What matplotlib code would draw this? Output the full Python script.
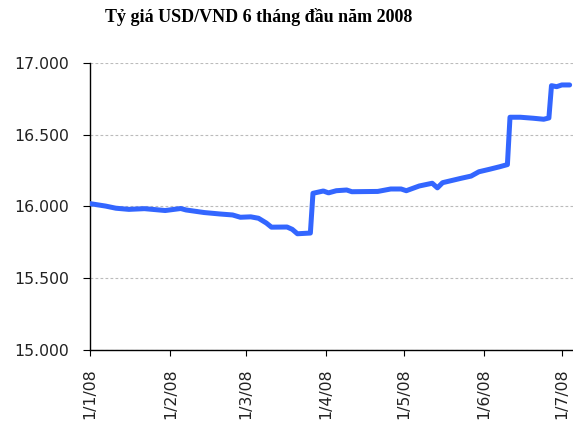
import numpy as np
import pandas as pd
import matplotlib.pyplot as plt
import matplotlib.dates as mdates

# USD/VND rate, first half of 2008
dates = ["2008-01-01", "2008-01-07", "2008-01-11", "2008-01-16", "2008-01-22",
         "2008-01-30", "2008-02-05", "2008-02-07", "2008-02-14", "2008-02-20",
         "2008-02-25", "2008-02-28", "2008-03-03", "2008-03-06", "2008-03-09",
         "2008-03-11", "2008-03-17", "2008-03-19", "2008-03-21", "2008-03-26",
         "2008-03-27", "2008-03-31", "2008-04-02", "2008-04-05", "2008-04-09",
         "2008-04-11", "2008-04-21", "2008-04-26", "2008-04-30", "2008-05-02",
         "2008-05-07", "2008-05-12", "2008-05-14", "2008-05-16", "2008-05-23",
         "2008-05-27", "2008-05-30", "2008-06-03", "2008-06-07", "2008-06-10",
         "2008-06-11", "2008-06-15", "2008-06-20", "2008-06-24", "2008-06-26",
         "2008-06-27", "2008-06-29", "2008-07-01", "2008-07-04"]
rate = [16020, 16003, 15988, 15980, 15985,
        15972, 15986, 15976, 15958, 15948,
        15941, 15925, 15928, 15918, 15885,
        15856, 15857, 15841, 15810, 15815,
        16092, 16108, 16095, 16110, 16115,
        16103, 16105, 16122, 16122, 16110,
        16143, 16162, 16130, 16166, 16196,
        16212, 16242, 16259, 16277, 16292,
        16622, 16622, 16615, 16608, 16617,
        16842, 16835, 16847, 16847]

tick_dates = ["2008-01-01", "2008-02-01", "2008-03-01", "2008-04-01",
              "2008-05-01", "2008-06-01", "2008-07-01"]
tick_labels = ["1/1/08", "1/2/08", "1/3/08", "1/4/08", "1/5/08", "1/6/08", "1/7/08"]
y_ticks = [15000, 15500, 16000, 16500, 17000]
y_labels = ["15.000", "15.500", "16.000", "16.500", "17.000"]

x = pd.to_datetime(dates)

fig = plt.figure(figsize=(5.73, 4.23), dpi=100)
ax = fig.add_axes([90/573, 1 - 350/423, 1 - 90/573, (350 - 63)/423])

ax.plot(x, rate, color="#3366FF", lw=3.6, solid_joinstyle="round",
        solid_capstyle="round", zorder=3)

start = pd.Timestamp("2008-01-01")
ax.set_xlim(start, start + pd.Timedelta(days=186.3))
ax.set_ylim(15000, 17000)

ax.set_yticks(y_ticks)
ax.set_yticklabels(y_labels, fontsize=11.3, color="#222222")
ax.set_xticks(pd.to_datetime(tick_dates))
ax.set_xticklabels(tick_labels, rotation=90, fontsize=11.3, color="#222222")

ax.grid(axis="y", color="#BBBBBB", linestyle=(0, (2.5, 2)), lw=0.8)
ax.set_axisbelow(True)
for s in ["top", "right"]:
    ax.spines[s].set_visible(False)
for s in ["left", "bottom"]:
    ax.spines[s].set_linewidth(1.0)
    ax.spines[s].set_color("black")
ax.tick_params(axis="y", length=5, pad=10)
ax.tick_params(axis="x", length=4, pad=9)

fig.text(0.452, 1 - 17/423, "Tỷ giá USD/VND 6 tháng đầu năm 2008",
         ha="center", va="center", fontsize=13, fontweight="bold",
         family="Liberation Serif")

fig.savefig("out.png", dpi=100)
